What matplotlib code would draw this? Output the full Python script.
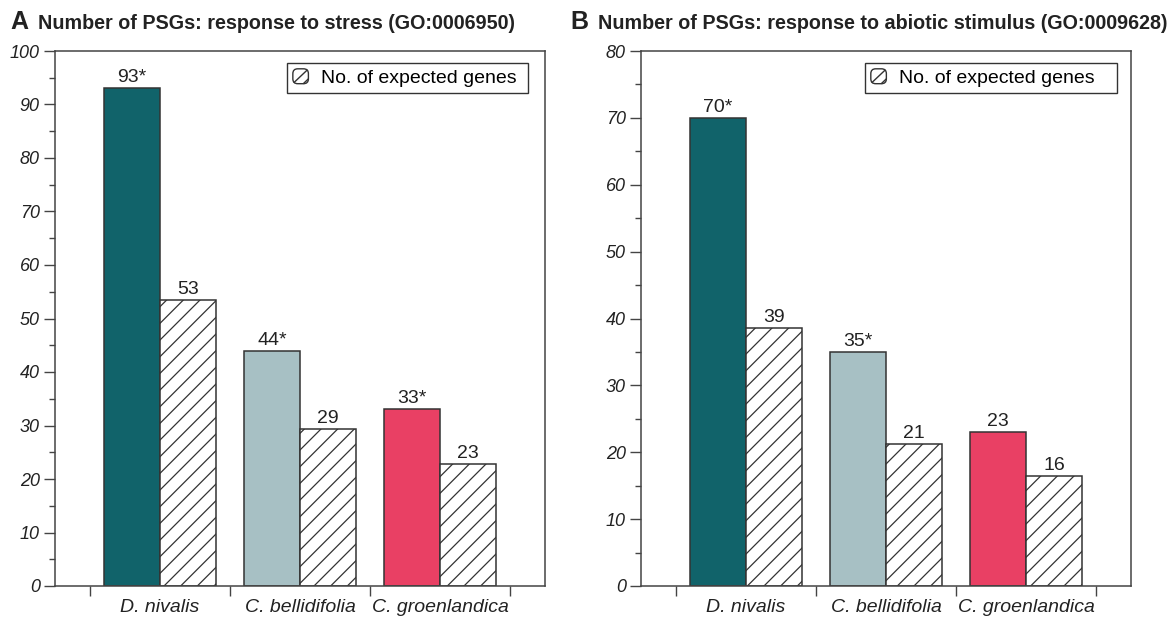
import matplotlib
matplotlib.use("Agg")
import matplotlib.pyplot as plt
import numpy as np
from matplotlib.patches import FancyBboxPatch, Rectangle
from matplotlib.lines import Line2D
from matplotlib.legend_handler import HandlerPatch
from matplotlib.ticker import MultipleLocator, FixedLocator

plt.rcParams['font.family'] = ['Liberation Sans', 'DejaVu Sans']
plt.rcParams['hatch.linewidth'] = 0.9

species = ["D. nivalis", "C. bellidifolia", "C. groenlandica"]
colors = ["#11636a", "#a7c0c4", "#e94064"]

obs_A = [93, 44, 33]
exp_A = [53.4, 29.3, 22.8]
obs_lab_A = ["93*", "44*", "33*"]
exp_lab_A = ["53", "29", "23"]

obs_B = [70, 35, 23]
exp_B = [38.6, 21.2, 16.4]
obs_lab_B = ["70*", "35*", "23"]
exp_lab_B = ["39", "21", "16"]

title_A = "Number of PSGs: response to stress (GO:0006950)"
title_B = "Number of PSGs: response to abiotic stimulus (GO:0009628)"
legend_label = "No. of expected genes"

EDGE = "#333333"
FS = 14
TFS = 13


class RoundHandler(HandlerPatch):
    def create_artists(self, legend, orig_handle, xdescent, ydescent,
                       width, height, fontsize, trans):
        x0, y0 = -xdescent, -ydescent
        p = FancyBboxPatch((x0 + 2.5, y0 + 2.5), width - 5, height - 5,
                           boxstyle="round,pad=2.5,rounding_size=3.5",
                           facecolor="white", edgecolor=EDGE,
                           linewidth=1.0, transform=trans)
        l1 = Line2D([x0 + 1, x0 + width - 1], [y0 + 1, y0 + height - 1],
                    color=EDGE, linewidth=1.0, transform=trans)
        l2 = Line2D([x0 + width * 0.70, x0 + width - 0.3],
                    [y0 + 0.3, y0 + height * 0.30],
                    color=EDGE, linewidth=1.0, transform=trans)
        return [p, l1, l2]


def draw(ax, obs, exp, obs_lab, exp_lab, ymax, leg_box, bpad):
    x = np.arange(len(species))
    w = 0.4
    ax.bar(x - w / 2, obs, width=w, color=colors, edgecolor=EDGE, linewidth=1.1, zorder=2)
    ax.bar(x + w / 2, exp, width=w, color="white", edgecolor=EDGE, linewidth=1.1,
           hatch="//", zorder=2)
    for xi, v, t in zip(x - w / 2, obs, obs_lab):
        ax.annotate(t, (xi, v), xytext=(0, 1.5), textcoords="offset points",
                    ha="center", va="bottom", fontsize=FS, color="#222222")
    for xi, v, t in zip(x + w / 2, exp, exp_lab):
        ax.annotate(t, (xi, v), xytext=(0, 1.5), textcoords="offset points",
                    ha="center", va="bottom", fontsize=FS, color="#222222")
    ax.set_xlim(-0.75, 2.75)
    ax.set_ylim(0, ymax)
    ax.yaxis.set_major_locator(MultipleLocator(10))
    ax.yaxis.set_minor_locator(MultipleLocator(5))
    for lab in ax.get_yticklabels():
        lab.set_fontstyle("italic")
    ax.tick_params(axis="y", which="major", length=8, width=1.0, color="#444444",
                   labelsize=TFS, pad=3, labelcolor="#222222")
    ax.tick_params(axis="y", which="minor", length=4.5, width=1.0, color="#444444")
    ax.xaxis.set_major_locator(FixedLocator([-0.5, 0.5, 1.5, 2.5]))
    ax.xaxis.set_minor_locator(FixedLocator(list(x)))
    ax.set_xticklabels([])
    ax.set_xticklabels(species, minor=True)
    for lab in ax.get_xticklabels(minor=True):
        lab.set_fontstyle("italic")
    ax.tick_params(axis="x", which="major", length=7, width=1.0, color="#444444")
    ax.tick_params(axis="x", which="minor", length=0, labelsize=FS, pad=9.5,
                   labelcolor="#222222")
    for s in ax.spines.values():
        s.set_linewidth(1.1)
        s.set_color("#444444")
    handle = Rectangle((0, 0), 1, 1, facecolor="white", edgecolor=EDGE)
    leg = ax.legend([handle], [legend_label], loc="upper left",
                    bbox_to_anchor=leg_box, mode="expand", fontsize=FS, frameon=True,
                    fancybox=False, edgecolor="#333333", framealpha=1,
                    handlelength=0.8, handleheight=0.8, handletextpad=0.65,
                    borderpad=bpad, borderaxespad=0,
                    handler_map={Rectangle: RoundHandler()})
    leg.get_frame().set_linewidth(1.0)


fig = plt.figure(figsize=(11.76, 6.21), dpi=100)
axA = fig.add_axes([55 / 1176, 35 / 621, 490 / 1176, 535 / 621])
axB = fig.add_axes([641 / 1176, 35 / 621, 490 / 1176, 535 / 621])
draw(axA, obs_A, exp_A, obs_lab_A, exp_lab_A, 100, (0.4735, 0.9, 0.4918, 0.0776), 0.3)
draw(axB, obs_B, exp_B, obs_lab_B, exp_lab_B, 80, (0.4571, 0.9, 0.5143, 0.0776), 0.3)

fig.text(10 / 1176, 1 - 29 / 621, "A", fontsize=18, fontweight="bold", va="baseline",
         color="#222222")
fig.text(38 / 1176, 1 - 29 / 621, title_A, fontsize=14.2, fontweight="bold", va="baseline",
         color="#222222")
fig.text(570 / 1176, 1 - 29 / 621, "B", fontsize=18, fontweight="bold", va="baseline",
         color="#222222")
fig.text(598 / 1176, 1 - 29 / 621, title_B, fontsize=14.2, fontweight="bold", va="baseline",
         color="#222222")

fig.savefig("out.png", dpi=100)
